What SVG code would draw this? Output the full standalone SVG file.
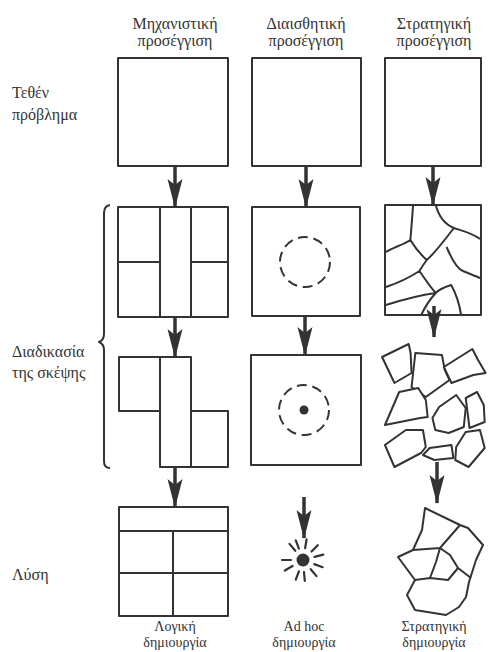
<svg xmlns="http://www.w3.org/2000/svg" width="491" height="652" viewBox="0 0 491 652">
<style>
text{font-family:"Liberation Serif","DejaVu Serif",serif;font-size:16px;fill:#333}
.c{text-anchor:middle}
.b{font-size:14px}
.s{fill:none;stroke:#333;stroke-width:2;stroke-linejoin:round}
.w{fill:#fff;stroke:#333;stroke-width:2;stroke-linejoin:round}
.d{fill:none;stroke:#333;stroke-width:2;stroke-dasharray:10 5.7}
.r{stroke:#333;stroke-width:2.2;stroke-linecap:round}
.a{stroke:#333;stroke-width:3.5;marker-end:url(#ah)}
</style>
<defs>
<marker id="ah" viewBox="0 -8 30 16" refX="28" refY="0" markerWidth="30" markerHeight="16" markerUnits="userSpaceOnUse" orient="auto">
<path d="M0,-7.5 L29,0 L0,7.5 L6,0 Z" fill="#333"/>
</marker>
</defs>
<rect width="491" height="652" fill="#fff"/>
<g id="headers">
<text class="c" x="175" y="29">Μηχανιστική</text>
<text class="c" x="175" y="46">προσέγγιση</text>
<text class="c" x="306" y="29">Διαισθητική</text>
<text class="c" x="306" y="46">προσέγγιση</text>
<text class="c" x="434" y="29">Στρατηγική</text>
<text class="c" x="434" y="46">προσέγγιση</text>
</g>
<g id="rowlabels">
<text x="12" y="98">Τεθέν</text>
<text x="12" y="120">πρόβλημα</text>
<text x="12" y="357">Διαδικασία</text>
<text x="12" y="378">της σκέψης</text>
<text x="12" y="580">Λύση</text>
<path class="s" d="M110,205 Q104,206 104,213 L104,334 Q104,340 99,342 Q104,344 104,350 L104,461 Q104,468 110,468"/>
</g>
<g id="mech-problem"><rect class="s" x="118" y="58" width="110" height="108"/></g>
<g id="mech-think1">
<rect class="s" x="118" y="207" width="110" height="110"/>
<path class="s" d="M160,207V317M191,207V317M118,262H160M191,262H228"/>
</g>
<g id="mech-think2">
<path class="s" d="M119,357H160V411H119Z M160,357H191V467H160Z M191,411H228V467H191Z"/>
</g>
<g id="mech-solution">
<rect class="s" x="119" y="507" width="109" height="109"/>
<path class="s" d="M119,531H228M119,573H228M173,531V616"/>
</g>
<g id="mech-label">
<text class="c b" x="175" y="631">Λογική</text>
<text class="c b" x="175" y="647">δημιουργία</text>
</g>
<g id="intu-problem"><rect class="s" x="252" y="58" width="109" height="108"/></g>
<g id="intu-think1">
<rect class="s" x="252" y="207" width="108" height="109"/>
<circle class="d" cx="305" cy="262" r="25"/>
</g>
<g id="intu-think2">
<rect class="s" x="251" y="355" width="110" height="110"/>
<circle class="d" cx="304" cy="410" r="25"/>
<circle cx="304" cy="410" r="4.5" fill="#333"/>
</g>
<g id="intu-solution">
<circle cx="303" cy="560" r="6.5" fill="#333"/>
<path class="r" d="M295.3,550.8L289.5,543.9M298.9,548.7L295.8,540.3M305.1,548.2L306.6,539.3M311.5,551.5L317.8,545.2M314.6,556.9L323.3,554.6M314.3,564.1L322.7,567.2M310.7,569.2L316.5,576.1M304,572L304.8,580.9M298.9,571.3L295.8,579.7M292.6,566L284.8,570.5M291,560L282,560"/>
</g>
<g id="intu-label">
<text class="c b" x="304" y="631">Ad hoc</text>
<text class="c b" x="304" y="647">δημιουργία</text>
</g>
<g id="strat-problem"><rect class="s" x="385" y="58" width="96" height="108"/></g>
<g id="strat-think1">
<rect class="s" x="385" y="205" width="96" height="110"/>
<g transform="translate(385,205) scale(0.906,1)">
<path class="s" vector-effect="non-scaling-stroke" d="M31,0 C30,12 29,25 28,35 C20,40 10,42 1,47 M28,35 C34,44 40,50 46,55 M56,0 C60,14 68,20 76,23 C86,26 96,28 105,34 M46,55 C55,48 66,35 76,23 M68,42 C74,55 80,64 86,66 C94,69 100,71 105,73 M46,55 C42,60 40,63 38,66 C28,72 14,78 1,82 M38,66 C44,74 50,82 56,88 C60,84 66,82 73,80 C78,88 82,98 84,110 M56,88 C40,90 22,94 1,100 M56,88 C48,96 44,102 40,110"/>
</g>
</g>
<g id="strat-think2" transform="translate(384,0) scale(0.95,1) translate(-384,0)">
<path class="w" vector-effect="non-scaling-stroke" d="M382,357L410,344L412,353L413,373L395,383Z"/>
<path class="w" vector-effect="non-scaling-stroke" d="M417,353L445,355L448,370L453,380L428,397L413,387Z"/>
<path class="w" vector-effect="non-scaling-stroke" d="M447,367L477,349L483,360L491,373L478,375L455,383Z"/>
<path class="w" vector-effect="non-scaling-stroke" d="M400,392L420,388L428,400L430,417L422,418L385,425Z"/>
<path class="w" vector-effect="non-scaling-stroke" d="M442,407L460,395L470,408L468,427L452,433L438,430L435,418Z"/>
<path class="w" vector-effect="non-scaling-stroke" d="M470,398L482,392L489,405L490,422L474,428Z"/>
<path class="w" vector-effect="non-scaling-stroke" d="M385,445L407,430L425,430L428,447L423,453L395,467Z"/>
<path class="w" vector-effect="non-scaling-stroke" d="M425,455L432,448L455,445L457,458L437,460Z"/>
<path class="w" vector-effect="non-scaling-stroke" d="M460,447L470,432L485,430L490,448L473,467L459,460Z"/>
</g>
<g id="strat-solution">
<path class="s" d="M425,508L460,525L468,528L483,545L476,560L469,582L466,597L459,607L446,615L415,610L407,595L415,580L398,557L413,550L422,530Z"/>
<path class="s" d="M413,550L440,548L460,525M440,548L450,555L458,568L471,578M440,548L436,562L430,578L415,580M430,578L448,580L458,568"/>
</g>
<g id="strat-label">
<text class="c b" x="434" y="631">Στρατηγική</text>
<text class="c b" x="434" y="647">δημιουργία</text>
</g>
<g id="connectors">
<line class="a" x1="175" y1="166" x2="175" y2="207"/>
<line class="a" x1="175" y1="317" x2="175" y2="357"/>
<line class="a" x1="175" y1="467" x2="175" y2="507"/>
<line class="a" x1="306" y1="166" x2="306" y2="207"/>
<line class="a" x1="305" y1="316" x2="305" y2="355"/>
<line class="a" x1="304" y1="497" x2="304" y2="538"/>
<line class="a" x1="433" y1="166" x2="433" y2="205"/>
<line class="a" x1="434" y1="306" x2="434" y2="337"/>
<line class="a" x1="437" y1="462" x2="437" y2="503"/>
</g>
</svg>
